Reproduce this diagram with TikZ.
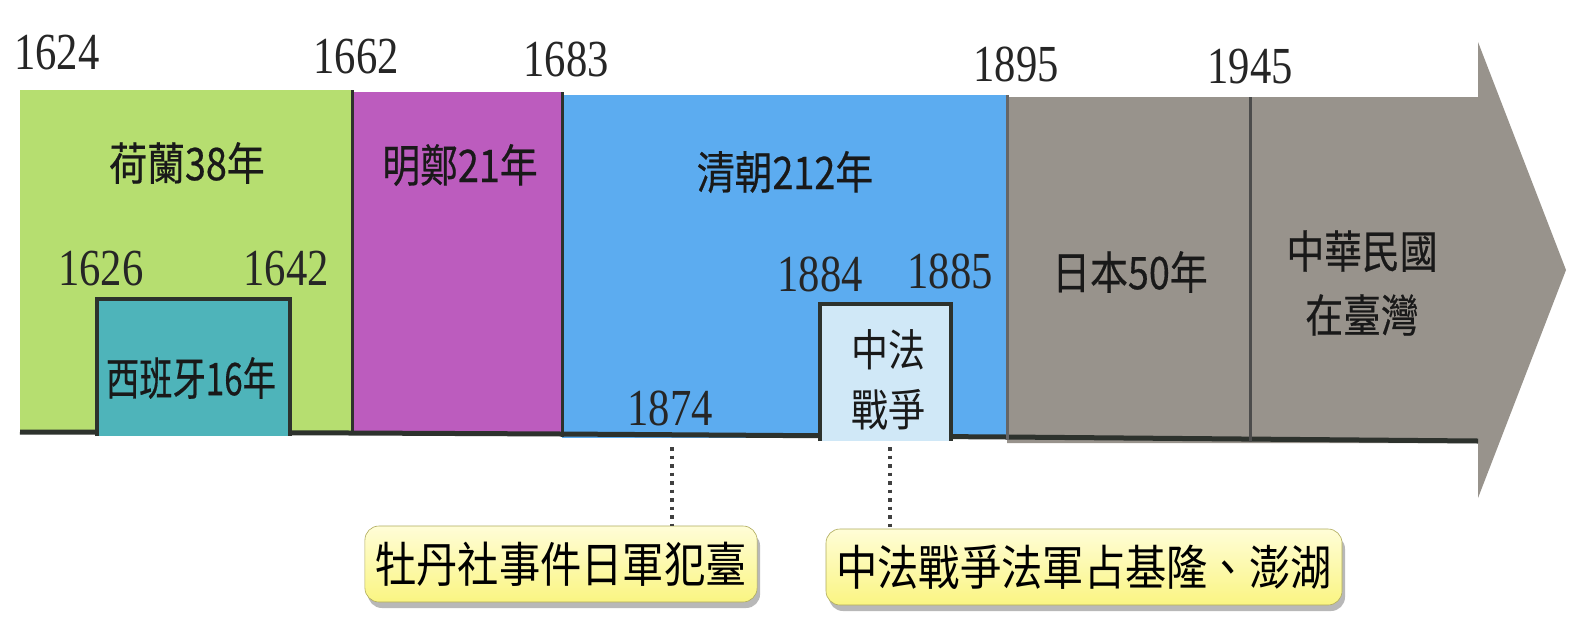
\documentclass[tikz,border=0pt]{standalone}
\usepackage{fontspec}
\setmainfont{Liberation Serif}
\newfontfamily\cjk{Noto Sans CJK TC}
\newfontfamily\cjkb[FakeBold=0.5]{Noto Sans CJK TC}
\usetikzlibrary{shadows}
\definecolor{cgreen}{RGB}{182,222,112}
\definecolor{cpurple}{RGB}{188,92,190}
\definecolor{cblue}{RGB}{92,172,240}
\definecolor{cgray}{RGB}{152,147,140}
\definecolor{cteal}{RGB}{78,180,186}
\definecolor{clight}{RGB}{208,232,247}
\definecolor{cedge}{RGB}{45,50,45}
\definecolor{cyel}{RGB}{250,245,130}
\definecolor{cyeltop}{RGB}{255,253,215}
\tikzset{
  year/.style={font=\fontsize{52}{52}\selectfont, xscale=0.82, transform shape, inner sep=0pt, text=black!85},
  lab/.style={font=\cjkb\fontsize{45}{45}\selectfont, xscale=0.84, transform shape, inner sep=0pt, text=black!90},
  evt/.style={font=\cjk\fontsize{48}{48}\selectfont, xscale=0.86, transform shape, rounded corners=14pt, minimum height=76pt, inner xsep=12pt,
     top color=cyeltop, bottom color=cyel, draw=cyel!70!black, line width=0.6pt,
     drop shadow={shadow xshift=3pt, shadow yshift=-6pt, fill=black!55}},
  dots/.style={line width=3.5pt, dash pattern=on 3.5pt off 5pt, draw=black!75},
  sep/.style={line width=3pt, draw=cedge},
}
\begin{document}
\begin{tikzpicture}[x=1pt,y=-1pt]
\useasboundingbox[fill=white] (0,0) rectangle (1569,625);
% bars
\fill[cgreen] (20,90) rectangle (352,434);
\fill[cpurple] (352,92) rectangle (562,435);
\fill[cblue] (562,95) rectangle (1007,438);
\fill[cgray] (1007,97) -- (1478,97) -- (1478,42) -- (1566,270) -- (1478,498) -- (1478,443) -- (1007,443) -- cycle;
% bottom shadows
\draw[sep, line width=5pt] (20,432) -- (352,433) -- (562,434) -- (1007,437) -- (1478,441);
% dividers
\draw[sep] (352,90) -- (352,435);
\draw[sep] (562,92) -- (562,437);
\draw[sep, draw=black!60] (1007,95) -- (1007,440);
\draw[sep, draw=black!70] (1250,97) -- (1250,442);
% Spain box
\fill[cteal] (97,300) rectangle (290,436);
\draw[sep, line width=4pt] (97,436) -- (97,299) -- (290,299) -- (290,436);
% Sino-French box
\fill[clight] (820,305) rectangle (951,441);
\draw[sep, line width=4pt] (820,441) -- (820,304) -- (951,304) -- (951,441);
% year labels
\node[year] (y1624) at (57,53) {1624};
\node[year] (y1662) at (356,57) {1662};
\node[year] (y1683) at (566,59) {1683};
\node[year] (y1895) at (1016,64) {1895};
\node[year] (y1945) at (1250,67) {1945};
\node[year] (y1626) at (101,269) {1626};
\node[year] (y1642) at (286,269) {1642};
\node[year] (y1884) at (820,274) {1884};
\node[year] (y1885) at (950,271) {1885};
\node[year] (y1874) at (670,408) {1874};
% period labels
\node[lab] (dutch) at (187,163) {荷蘭38年};
\node[lab, xscale=0.88] (spain) at (191,378) {西班牙16年};
\node[lab] (ming) at (460,165) {明鄭21年};
\node[lab] (qing) at (785,172) {清朝212年};
\node[lab] (japan) at (1130,272) {日本50年};
\node[lab, align=center, font=\cjkb\fontsize{45}{64}\selectfont] (roc) at (1362,283) {中華民國\\在臺灣};
\node[lab, align=center, font=\cjk\fontsize{44}{60}\selectfont] (sino) at (888,380) {中法\\戰爭};
% events
\coordinate (c1874) at (672,447);
\coordinate (c1884) at (890,447);
\node[evt] (e1) at (561,564) {牡丹社事件日軍犯臺};
\node[evt] (e2) at (1084,567) {中法戰爭法軍占基隆、澎湖};
\draw[dots] (c1874) -- (c1874 |- e1.north);
\draw[dots] (c1884) -- (c1884 |- e2.north);
\end{tikzpicture}
\end{document}
